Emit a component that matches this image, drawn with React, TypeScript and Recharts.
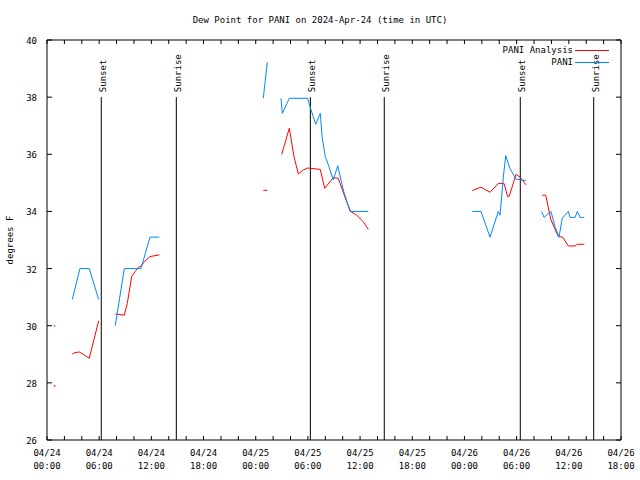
import { LineChart, Line, XAxis, YAxis, ReferenceLine } from "recharts";

const FONT = "'DejaVu Sans Mono', monospace";
const RED = "#ff0000";
const BLUE = "#0088ff";

// hours since 04/24 00:00 UTC; a null value breaks the line
const paniHours = [
  0.84, 1.9, 2.91, 3.79, 4.86, 5.94, 6.9, 7.85, 8.89, 10.81, 11.84, 12.92, 18,
  24.87, 25.33, 26, 26.9, 27.06, 27.86, 29.98, 30.24, 30.9, 31.42, 31.65, 32.0,
  32.42, 32.92, 33.43, 34.07, 34.84, 36.94, 42, 48.9, 49.9, 50.94, 51.89, 52.09,
  52.47, 52.74, 53.04, 53.24, 53.93, 55.08, 56, 56.88, 57.15, 57.53, 57.95,
  58.41, 58.87, 59.25, 59.94, 60.14, 60.71, 60.98, 61.29, 61.78,
];
const paniValues = [
  30.0, null, 30.92, 32.0, 32.0, 30.92, null, 30.0, 32.0, 32.0, 33.1, 33.1, null,
  37.96, 39.22, null, 37.96, 37.43, 37.96, 37.96, 37.67, 37.05, 37.43, 36.56, 35.92,
  35.57, 35.1, 35.6, 34.75, 34.0, 34.0, null, 34.0, 34.0, 33.1, 34.0, 33.87,
  35.2, 35.95, 35.68, 35.5, 35.13, 35.08, null, 34.0, 33.79, 33.9, 34.0,
  33.47, 33.1, 33.76, 34.0, 33.79, 33.79, 34.0, 33.79, 33.79,
];

const analysisHours = [
  0.84, 1.9, 2.91, 3.22, 3.71, 4.17, 4.86, 5.94, 6.9, 7.85, 8.89, 9.23, 9.74,
  10.12, 10.5, 10.81, 11.19, 11.84, 12.92, 18, 24.87, 25.33, 26, 26.99, 27.86,
  28.4, 28.9, 29.47, 29.98, 31.42, 31.93, 32.92, 33.49, 34.46, 34.92, 35.61,
  36.37, 36.94, 42, 48.9, 49.9, 50.94, 51.89, 52.55, 52.97, 53.16, 53.93, 54.39,
  55.08, 56, 56.95, 57.34, 57.95, 58.79, 59.3, 59.94, 60.71, 60.97, 61.78,
];
const analysisValues = [
  27.9, null, 29.0, 29.06, 29.08, 29.0, 28.86, 30.17, null, 30.41, 30.37, 30.78, 31.72,
  31.89, 32.04, 32.09, 32.24, 32.42, 32.48, null, 34.74, 34.74, null, 36.0, 36.91,
  35.92, 35.31, 35.45, 35.52, 35.47, 34.81, 35.18, 35.16, 34.34, 34.0, 33.87,
  33.64, 33.37, null, 34.73, 34.85, 34.67, 34.98, 34.98, 34.52, 34.54, 35.3, 35.2,
  34.93, null, 34.57, 34.57, 33.7, 33.12, 33.1, 32.79, 32.79, 32.85, 32.85,
];

const xTicks = [
  0, 2, 4, 6, 8, 10, 12, 14, 16, 18, 20, 22, 24, 26, 28, 30, 32, 34, 36, 38, 40,
  42, 44, 46, 48, 50, 52, 54, 56, 58, 60, 62, 64, 66,
];
const tickDates = [
  "04/24", "04/24", "04/24", "04/24", "04/25", "04/25",
  "04/25", "04/25", "04/26", "04/26", "04/26", "04/26",
];
const tickTimes = [
  "00:00", "06:00", "12:00", "18:00", "00:00", "06:00",
  "12:00", "18:00", "00:00", "06:00", "12:00", "18:00",
];
const yTicks = [26, 28, 30, 32, 34, 36, 38, 40];

const sunHours = [6.24, 14.87, 30.28, 38.78, 54.42, 62.86];
const sunNames = ["Sunset", "Sunrise", "Sunset", "Sunrise", "Sunset", "Sunrise"];

const toRows = (hours: number[], values: (number | null)[]) =>
  hours.map((t, i) => ({ t, v: values[i] }));

const paniData = toRows(paniHours, paniValues);
const analysisData = toRows(analysisHours, analysisValues);

// a lone observation has no neighbours to draw a line to, so mark it with a dot
const loneDot = (rows: { t: number; v: number | null }[], color: string) => (props: any) => {
  const { cx, cy, index } = props;
  const prev = rows[index - 1];
  const next = rows[index + 1];
  const lone = rows[index].v != null && (!prev || prev.v == null) && (!next || next.v == null);
  if (!lone || cx == null || cy == null) return <g key={`d${index}`} />;
  return <rect key={`d${index}`} x={cx - 0.5} y={cy - 0.5} width={1.5} height={1.5} fill={color} />;
};

function BottomTick({ x, y, payload }: any) {
  const i = payload.value / 6;
  return (
    <g>
      <line x1={x} y1={y} x2={x} y2={y - 4} stroke="#000" />
      {Number.isInteger(i) && (
        <text x={x} y={y} textAnchor="middle" fontFamily={FONT} fontSize={9} fill="#000">
          <tspan x={x} dy={16}>{tickDates[i]}</tspan>
          <tspan x={x} dy={13}>{tickTimes[i]}</tspan>
        </text>
      )}
    </g>
  );
}

function TopTick({ x, y }: any) {
  return <line x1={x} y1={y} x2={x} y2={y + 4} stroke="#000" />;
}

function LeftTick({ x, y, payload }: any) {
  return (
    <g>
      <line x1={x} y1={y} x2={x + 5} y2={y} stroke="#000" />
      <text x={x - 10} y={y + 4} textAnchor="end" fontFamily={FONT} fontSize={9} fill="#000">
        {payload.value}
      </text>
    </g>
  );
}

function RightTick({ x, y }: any) {
  return <line x1={x} y1={y} x2={x - 5} y2={y} stroke="#000" />;
}

function SunLabel({ viewBox, text }: any) {
  const { x, y } = viewBox;
  return (
    <text
      transform={`translate(${x + 5},${y - 5}) rotate(-90)`}
      fontFamily={FONT}
      fontSize={9}
      fill="#000"
    >
      {text}
    </text>
  );
}

export default function App() {
  return (
    <div
      style={{
        position: "absolute",
        left: 0,
        top: 0,
        width: 640,
        height: 480,
        background: "#fff",
        fontFamily: FONT,
        fontSize: 9,
      }}
    >
      <LineChart width={640} height={480} margin={{ top: 39, right: 18, bottom: 10, left: 0 }}>
        <XAxis
          dataKey="t"
          type="number"
          domain={[0, 66]}
          ticks={xTicks}
          interval={0}
          height={30}
          tickSize={0}
          tickMargin={0}
          tickLine={false}
          tick={<BottomTick />}
          stroke="#000"
          allowDataOverflow
        />
        <XAxis
          xAxisId="top"
          orientation="top"
          dataKey="t"
          type="number"
          domain={[0, 66]}
          ticks={xTicks}
          interval={0}
          height={1}
          tickSize={0}
          tickMargin={0}
          tickLine={false}
          tick={<TopTick />}
          stroke="#000"
          allowDataOverflow
        />
        <YAxis
          type="number"
          domain={[26, 40]}
          ticks={yTicks}
          interval={0}
          width={47}
          tickSize={0}
          tickMargin={0}
          tickLine={false}
          tick={<LeftTick />}
          stroke="#000"
          allowDataOverflow
        />
        <YAxis
          yAxisId="right"
          orientation="right"
          type="number"
          domain={[26, 40]}
          ticks={yTicks}
          interval={0}
          width={1}
          tickSize={0}
          tickMargin={0}
          tickLine={false}
          tick={<RightTick />}
          stroke="#000"
          allowDataOverflow
        />
        {sunHours.map((h, i) => (
          <ReferenceLine
            key={`sun${i}`}
            segment={[
              { x: h, y: 26 },
              { x: h, y: 38 },
            ]}
            stroke="#000"
            strokeWidth={1}
            label={<SunLabel text={sunNames[i]} />}
          />
        ))}
        {/* invisible series so the mirrored top/right axes get drawn */}
        <Line
          xAxisId="top"
          yAxisId="right"
          data={analysisData}
          dataKey="v"
          stroke="none"
          dot={false}
          activeDot={false}
          legendType="none"
          isAnimationActive={false}
        />
        <Line
          data={analysisData}
          dataKey="v"
          name="PANI Analysis"
          stroke={RED}
          strokeWidth={1}
          dot={loneDot(analysisData, RED)}
          activeDot={false}
          isAnimationActive={false}
          connectNulls={false}
        />
        <Line
          data={paniData}
          dataKey="v"
          name="PANI"
          stroke={BLUE}
          strokeWidth={1}
          dot={loneDot(paniData, BLUE)}
          activeDot={false}
          isAnimationActive={false}
          connectNulls={false}
        />
      </LineChart>

      <div
        style={{ position: "absolute", left: 0, top: 14, width: 640, lineHeight: "12px", textAlign: "center" }}
      >
        Dew Point for PANI on 2024-Apr-24 (time in UTC)
      </div>
      <div
        style={{
          position: "absolute",
          left: -20,
          top: 234,
          width: 60,
          lineHeight: "12px",
          textAlign: "center",
          transform: "rotate(-90deg)",
        }}
      >
        degrees F
      </div>

      <div style={{ position: "absolute", right: 67, top: 44, lineHeight: "12px", textAlign: "right" }}>
        PANI Analysis
      </div>
      <div style={{ position: "absolute", left: 575, top: 50, width: 34, borderTop: `1px solid ${RED}` }} />
      <div style={{ position: "absolute", right: 67, top: 56, lineHeight: "12px", textAlign: "right" }}>
        PANI
      </div>
      <div style={{ position: "absolute", left: 575, top: 62, width: 34, borderTop: `1px solid ${BLUE}` }} />
    </div>
  );
}
